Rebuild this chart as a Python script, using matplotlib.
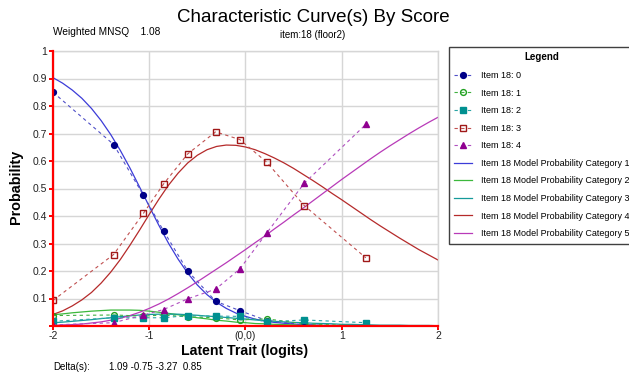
import matplotlib
matplotlib.use("Agg")
import matplotlib.pyplot as plt
from matplotlib.lines import Line2D

plt.rcParams['font.family'] = ['Liberation Sans', 'DejaVu Sans']

# observed proportions per score group
obs_x = [-2.0, -1.37, -1.06, -0.85, -0.6, -0.31, -0.06, 0.22, 0.61, 1.25]
obs_0 = [0.85, 0.66, 0.475, 0.345, 0.20, 0.09, 0.056, 0.02, 0.004, 0.0]
obs_1 = [0.038, 0.040, 0.036, 0.040, 0.033, 0.030, 0.022, 0.026, 0.008, 0.0]
obs_2 = [0.017, 0.030, 0.030, 0.030, 0.038, 0.036, 0.035, 0.015, 0.022, 0.012]
obs_3 = [0.093, 0.26, 0.41, 0.517, 0.626, 0.706, 0.678, 0.596, 0.438, 0.248]
obs_4 = [0.004, 0.012, 0.04, 0.06, 0.099, 0.134, 0.207, 0.338, 0.519, 0.733]

# model probability curves, read at 0.1 logit steps
theta = [-2.0, -1.9, -1.8, -1.7, -1.6, -1.5, -1.4, -1.3, -1.2, -1.1,
         -1.0, -0.9, -0.8, -0.7, -0.6, -0.5, -0.4, -0.3, -0.2, -0.1,
         0.0, 0.1, 0.2, 0.3, 0.4, 0.5, 0.6, 0.7, 0.8, 0.9,
         1.0, 1.1, 1.2, 1.3, 1.4, 1.5, 1.6, 1.7, 1.8, 1.9, 2.0]
cat_1 = [0.903, 0.883, 0.858, 0.828, 0.791, 0.747, 0.696, 0.638, 0.574, 0.505,
         0.435, 0.366, 0.301, 0.243, 0.192, 0.149, 0.114, 0.086, 0.064, 0.047,
         0.035, 0.025, 0.018, 0.013, 0.010, 0.007, 0.005, 0.004, 0.002, 0.002,
         0.001, 0.001, 0.001, 0.0, 0.0, 0.0, 0.0, 0.0, 0.0, 0.0, 0.0]
cat_2 = [0.041, 0.044, 0.048, 0.051, 0.054, 0.056, 0.058, 0.058, 0.058, 0.057,
         0.054, 0.050, 0.046, 0.041, 0.035, 0.030, 0.026, 0.021, 0.018, 0.014,
         0.012, 0.009, 0.008, 0.006, 0.005, 0.004, 0.003, 0.002, 0.002, 0.001,
         0.001, 0.001, 0.001, 0.0, 0.0, 0.0, 0.0, 0.0, 0.0, 0.0, 0.0]
cat_3 = [0.012, 0.014, 0.017, 0.020, 0.023, 0.027, 0.030, 0.034, 0.037, 0.040,
         0.042, 0.043, 0.043, 0.043, 0.041, 0.039, 0.036, 0.034, 0.031, 0.028,
         0.025, 0.022, 0.020, 0.017, 0.015, 0.013, 0.012, 0.010, 0.009, 0.008,
         0.006, 0.006, 0.005, 0.004, 0.003, 0.003, 0.003, 0.002, 0.002, 0.002, 0.001]
cat_4 = [0.042, 0.055, 0.073, 0.095, 0.122, 0.156, 0.196, 0.242, 0.294, 0.349,
         0.406, 0.461, 0.512, 0.556, 0.593, 0.621, 0.641, 0.653, 0.658, 0.657,
         0.651, 0.641, 0.627, 0.611, 0.593, 0.573, 0.551, 0.529, 0.506, 0.482,
         0.459, 0.435, 0.411, 0.387, 0.364, 0.342, 0.320, 0.299, 0.278, 0.259, 0.240]
cat_5 = [0.002, 0.004, 0.005, 0.007, 0.011, 0.015, 0.021, 0.028, 0.038, 0.050,
         0.064, 0.080, 0.098, 0.118, 0.139, 0.161, 0.184, 0.207, 0.230, 0.254,
         0.278, 0.303, 0.327, 0.353, 0.378, 0.404, 0.429, 0.455, 0.481, 0.507,
         0.533, 0.558, 0.583, 0.608, 0.632, 0.655, 0.677, 0.699, 0.720, 0.740, 0.759]

x_ticks = [-2, -1, 0, 1, 2]
x_labels = ['-2', '-1', '(0,0)', '1', '2']
y_ticks = [0, 0.1, 0.2, 0.3, 0.4, 0.5, 0.6, 0.7, 0.8, 0.9, 1.0]
y_labels = ['', '0.1', '0.2', '0.3', '0.4', '0.5', '0.6', '0.7', '0.8', '0.9', '1']

W, H = 629, 376
fig = plt.figure(figsize=(W / 100, H / 100), dpi=100)
ax = fig.add_axes([53 / W, 1 - 326 / H, 385 / W, 275 / H])

model_cols = ['#3c3cd8', '#3cb83c', '#159a9a', '#b52a2a', '#b83ab8']
for ys, c in zip([cat_1, cat_2, cat_3, cat_4, cat_5], model_cols):
    ax.plot(theta, ys, color=c, lw=0.9, zorder=2)

dash = (0, (3, 3))
obs_style = [
    (obs_0, '#5050c8', dict(marker='o', ms=4.2, mfc='#000088', mec='#000088')),
    (obs_1, '#40b040', dict(marker='o', ms=4.2, mfc='none', mec='#1fa01f', mew=1)),
    (obs_2, '#2aa5a5', dict(marker='s', ms=4.8, mfc='#009090', mec='#009090')),
    (obs_3, '#c05050', dict(marker='s', ms=4.6, mfc='none', mec='#a01818', mew=1)),
    (obs_4, '#b050c0', dict(marker='^', ms=5, mfc='#900090', mec='#900090')),
]
handles = []
names = ['Item 18: 0', 'Item 18: 1', 'Item 18: 2', 'Item 18: 3', 'Item 18: 4']
for ys, c, kw in obs_style:
    ax.plot(obs_x, ys, color=c, lw=0.8, ls=dash, zorder=3, **kw)
    handles.append(Line2D([], [], color=c, lw=0.8, ls=dash, **kw))
for i, c in enumerate(model_cols):
    handles.append(Line2D([], [], color=c, lw=0.9))
    names.append('Item 18 Model Probability Category %d' % (i + 1))

ax.set_xlim(-2, 2)
ax.set_ylim(0, 1)
ax.set_xticks(x_ticks)
ax.set_xticklabels(x_labels)
ax.set_yticks(y_ticks)
ax.set_yticklabels(y_labels)
ax.grid(True, color='#d6d6d6', lw=1)
ax.set_axisbelow(True)
for s in ['top', 'right']:
    ax.spines[s].set_color('#d6d6d6')
    ax.spines[s].set_linewidth(1)
for s in ['left', 'bottom']:
    ax.spines[s].set_color('#ff0000')
    ax.spines[s].set_linewidth(1.6)
    ax.spines[s].set_zorder(5)
ax.tick_params(colors='#ff0000', width=1.4, length=3, labelcolor='#222222',
               labelsize=7.5)
ax.tick_params(axis='x', pad=0.5)
ax.tick_params(axis='y', pad=1)

fig.text(313 / W, 1 - 18 / H, 'Characteristic Curve(s) By Score', ha='center',
         va='center', fontsize=13.5)
fig.text(313 / W, 1 - 35 / H, 'item:18 (floor2)', ha='center', va='center', fontsize=7)
fig.text(53 / W, 1 - 32 / H, 'Weighted MNSQ    1.08', ha='left', va='center', fontsize=7.3)
fig.text(245 / W, 1 - 351 / H, 'Latent Trait (logits)', ha='center', va='center',
         fontsize=10.2, fontweight='bold')
fig.text(16 / W, 1 - 187 / H, 'Probability', ha='center', va='center', rotation=90,
         fontsize=10.4, fontweight='bold')
fig.text(53 / W, 1 - 367 / H, 'Delta(s):', ha='left', va='center', fontsize=7)
fig.text(109 / W, 1 - 367 / H, '1.09 -0.75 -3.27  0.85', ha='left', va='center', fontsize=7)

leg = fig.legend(handles, names, title='Legend', loc='upper left',
                 bbox_to_anchor=(449 / W, 1 - 47 / H), bbox_transform=fig.transFigure,
                 borderaxespad=0, fontsize=6.5, title_fontproperties={'weight': 'bold', 'size': 7},
                 frameon=True, fancybox=False, edgecolor='#404040', framealpha=1,
                 labelspacing=0.95, handlelength=1.9, handletextpad=1.0, borderpad=0.6)
leg.get_frame().set_linewidth(1)

fig.savefig('out.png', dpi=100)
